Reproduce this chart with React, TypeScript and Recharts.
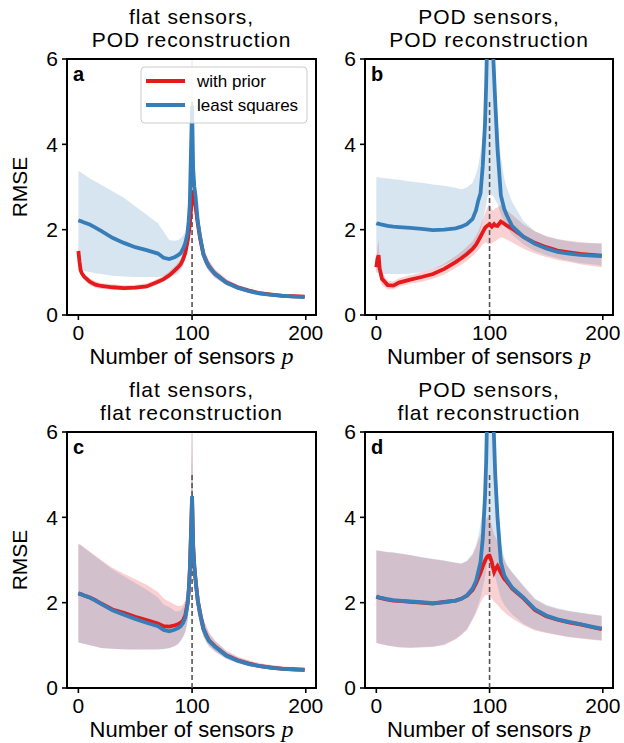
import React from 'react';
import { ComposedChart, Area, Line, XAxis, YAxis, ReferenceLine, ReferenceArea } from 'recharts';

const FONT = '"Liberation Sans", Arial, Helvetica, sans-serif';
const RED = '#e41a1c';
const BLUE = '#377eb8';

// number of sensors p (sample positions)
const P = [
  0, 1, 2, 3, 5,
  10, 15, 20, 30, 40,
  50, 60, 70, 75, 80,
  85, 88, 90, 92, 94,
  96, 97, 98, 99, 100,
  101, 102, 103, 104, 105,
  107, 110, 113, 115, 120,
  130, 140, 150, 160, 170,
  180, 190, 199,
];

const X_TICKS = [0, 100, 200];
const Y_TICKS = [0, 2, 4, 6];

// a: flat sensors, POD reconstruction
const A_PRIOR = [
  1.5, 1.25, 1.05, 0.98, 0.9,
  0.78, 0.71, 0.68, 0.65, 0.63,
  0.64, 0.67, 0.78, 0.84, 0.93,
  1.05, 1.13, 1.19, 1.3, 1.45,
  1.72, 1.9, 2.1, 2.45, 2.8,
  2.9, 2.75, 2.55, 2.35, 2.15,
  1.8, 1.42, 1.23, 1.14, 0.97,
  0.77, 0.65, 0.57, 0.51, 0.48,
  0.45, 0.44, 0.43,
];
const A_PRIOR_LO = [
  1.3, 1.1, 0.97, 0.9, 0.82,
  0.7, 0.64, 0.61, 0.59, 0.58,
  0.59, 0.62, 0.72, 0.78, 0.86,
  0.97, 1.04, 1.1, 1.19, 1.33,
  1.57, 1.73, 1.9, 2.2, 2.5,
  2.6, 2.5, 2.3, 2.12, 1.95,
  1.62, 1.28, 1.1, 1.02, 0.88,
  0.71, 0.6, 0.53, 0.48, 0.45,
  0.43, 0.42, 0.41,
];
const A_PRIOR_HI = [
  1.6, 1.4, 1.15, 1.06, 0.98,
  0.86, 0.79, 0.75, 0.72, 0.7,
  0.71, 0.74, 0.85, 0.92, 1.02,
  1.15, 1.24, 1.3, 1.43, 1.6,
  1.9, 2.1, 2.35, 2.8, 3.3,
  3.3, 3.05, 2.85, 2.62, 2.4,
  2.0, 1.6, 1.38, 1.28, 1.08,
  0.85, 0.71, 0.62, 0.55, 0.51,
  0.48, 0.46, 0.45,
];
const A_LSQ = [
  2.22, 2.21, 2.2, 2.19, 2.17,
  2.12, 2.05, 1.97, 1.81, 1.69,
  1.59, 1.52, 1.44, 1.34, 1.31,
  1.36, 1.41, 1.45, 1.55, 1.68,
  1.92, 2.2, 2.6, 3.8, 4.9,
  3.4, 3.0, 2.8, 2.5, 2.2,
  1.85, 1.42, 1.22, 1.13, 0.97,
  0.76, 0.64, 0.56, 0.5, 0.47,
  0.45, 0.43, 0.42,
];
const A_LSQ_LO = [
  1.06, 1.05, 1.05, 1.04, 1.03,
  1.01, 0.98, 0.96, 0.92, 0.9,
  0.89, 0.89, 0.89, 0.9, 0.9,
  0.93, 0.98, 1.05, 1.15, 1.3,
  1.55, 1.75, 2.05, 2.6, 3.0,
  2.9, 2.6, 2.4, 2.15, 1.9,
  1.6, 1.28, 1.1, 1.02, 0.87,
  0.7, 0.59, 0.52, 0.47, 0.44,
  0.42, 0.41, 0.4,
];
const A_LSQ_HI = [
  3.38, 3.36, 3.35, 3.33, 3.3,
  3.2, 3.13, 3.05, 2.9, 2.75,
  2.55, 2.35, 2.15, 1.95, 1.75,
  1.74, 1.76, 1.8, 1.85, 1.95,
  2.2, 2.5, 3.1, 4.5, 7,
  4.0, 3.4, 3.1, 2.8, 2.5,
  2.1, 1.6, 1.37, 1.26, 1.06,
  0.83, 0.7, 0.61, 0.54, 0.5,
  0.48, 0.46, 0.45,
];

// b: POD sensors, POD reconstruction
const B_PRIOR = [
  1.12, 1.32, 1.4, 1.08, 0.85,
  0.7, 0.69, 0.76, 0.83, 0.89,
  0.96, 1.08, 1.24, 1.33, 1.43,
  1.55, 1.65, 1.74, 1.84, 1.94,
  2.04, 2.07, 2.09, 2.11, 2.13,
  2.1, 2.07, 2.1, 2.13, 2.1,
  2.09, 2.19, 2.14, 2.1, 2.02,
  1.83, 1.69, 1.59, 1.51, 1.47,
  1.43, 1.41, 1.39,
];
const B_PRIOR_LO = [
  0.98, 1.05, 1.05, 0.85, 0.7,
  0.6, 0.6, 0.67, 0.73, 0.78,
  0.85, 0.95, 1.1, 1.18, 1.27,
  1.38, 1.46, 1.52, 1.58, 1.65,
  1.7, 1.7, 1.68, 1.66, 1.65,
  1.66, 1.68, 1.7, 1.72, 1.73,
  1.77, 1.82, 1.8, 1.77, 1.7,
  1.55, 1.44, 1.36, 1.29, 1.24,
  1.19, 1.15, 1.12,
];
const B_PRIOR_HI = [
  1.28, 1.6, 1.75, 1.3, 1.0,
  0.8, 0.79, 0.86, 0.93, 1.0,
  1.08, 1.2, 1.38, 1.48, 1.6,
  1.73, 1.85, 1.95, 2.1, 2.22,
  2.38, 2.45, 2.52, 2.57, 2.6,
  2.55, 2.48, 2.45, 2.47, 2.5,
  2.52, 2.58, 2.52, 2.46, 2.35,
  2.12, 1.96, 1.85, 1.78, 1.74,
  1.71, 1.69, 1.68,
];
const B_LSQ = [
  2.15, 2.14, 2.14, 2.13, 2.12,
  2.09, 2.07, 2.06, 2.04, 2.02,
  1.99, 2.0, 2.03, 2.07, 2.13,
  2.25, 2.45, 2.68, 2.85, 3.5,
  4.5, 5.4, 6.6, 8, 9,
  8.5, 7, 6.2, 5.6, 5.0,
  3.9, 2.8, 2.48, 2.35, 2.08,
  1.83, 1.67, 1.56, 1.48, 1.44,
  1.41, 1.39, 1.38,
];
const B_LSQ_LO = [
  1.0, 0.99, 0.98, 0.97, 0.96,
  0.96, 0.96, 0.96, 0.97, 1.0,
  1.07, 1.17, 1.3, 1.38, 1.48,
  1.62, 1.75, 1.85, 2.0, 2.2,
  2.45, 2.6, 2.75, 2.85, 2.9,
  2.85, 2.8, 2.8, 2.75, 2.7,
  2.6, 2.35, 2.15, 2.05, 1.88,
  1.65, 1.5, 1.4, 1.33, 1.27,
  1.22, 1.19, 1.16,
];
const B_LSQ_HI = [
  3.23, 3.23, 3.22, 3.22, 3.21,
  3.2, 3.18, 3.17, 3.13, 3.1,
  3.06, 3.03, 2.98, 2.95, 2.99,
  3.1, 3.3, 3.5, 3.8, 4.2,
  4.9, 5.6, 7, 8, 9,
  9, 8, 7, 6.5, 5.8,
  4.6, 3.7, 3.2, 3.0, 2.65,
  2.2, 1.96, 1.84, 1.77, 1.72,
  1.69, 1.68, 1.67,
];

// c: flat sensors, flat reconstruction
const C_PRIOR = [
  2.22, 2.21, 2.2, 2.19, 2.17,
  2.12, 2.06, 1.98, 1.84, 1.76,
  1.67, 1.59, 1.51, 1.45, 1.44,
  1.47, 1.5, 1.53, 1.58, 1.7,
  1.98, 2.25, 2.75, 3.55, 4.45,
  3.3, 2.85, 2.55, 2.3, 2.05,
  1.76, 1.39, 1.21, 1.11, 0.98,
  0.77, 0.65, 0.57, 0.51, 0.48,
  0.45, 0.44, 0.43,
];
const C_PRIOR_LO = [
  1.07, 1.06, 1.06, 1.05, 1.04,
  1.0, 0.97, 0.94, 0.92, 0.91,
  0.9, 0.9, 0.91, 0.92, 0.94,
  0.99, 1.05, 1.12, 1.2, 1.32,
  1.57, 1.8, 2.2, 2.8, 3.3,
  2.7, 2.4, 2.15, 1.95, 1.75,
  1.5, 1.2, 1.06, 0.98, 0.86,
  0.69, 0.59, 0.52, 0.47, 0.44,
  0.42, 0.41, 0.4,
];
const C_PRIOR_HI = [
  3.38, 3.37, 3.36, 3.34, 3.3,
  3.2, 3.1, 3.0, 2.82, 2.68,
  2.55, 2.42, 2.25, 2.1, 2.02,
  1.95, 1.92, 1.92, 1.95, 2.05,
  2.35, 2.65, 3.2, 4.5, 7,
  4.2, 3.4, 3.0, 2.7, 2.42,
  2.02, 1.62, 1.42, 1.3, 1.12,
  0.88, 0.74, 0.65, 0.58, 0.54,
  0.51, 0.49, 0.47,
];
const C_LSQ = [
  2.22, 2.21, 2.2, 2.19, 2.17,
  2.12, 2.05, 1.97, 1.82, 1.72,
  1.62, 1.53, 1.45, 1.36, 1.33,
  1.37, 1.41, 1.45, 1.52, 1.65,
  1.95, 2.25, 2.75, 3.6, 4.5,
  3.3, 2.85, 2.55, 2.3, 2.05,
  1.75, 1.38, 1.2, 1.1, 0.97,
  0.76, 0.64, 0.56, 0.51, 0.47,
  0.45, 0.43, 0.42,
];
const C_LSQ_LO = [
  1.06, 1.06, 1.05, 1.05, 1.04,
  1.0, 0.97, 0.94, 0.92, 0.9,
  0.9, 0.9, 0.9, 0.91, 0.93,
  0.98, 1.03, 1.1, 1.18, 1.3,
  1.55, 1.8, 2.2, 2.8, 3.3,
  2.7, 2.4, 2.15, 1.95, 1.75,
  1.5, 1.2, 1.05, 0.97, 0.85,
  0.68, 0.58, 0.51, 0.46, 0.43,
  0.41, 0.4, 0.39,
];
const C_LSQ_HI = [
  3.37, 3.36, 3.35, 3.33, 3.28,
  3.18, 3.08, 2.98, 2.78, 2.62,
  2.46, 2.3, 2.12, 1.95, 1.9,
  1.8, 1.8, 1.82, 1.88, 2.0,
  2.3, 2.6, 3.2, 4.5, 7,
  4.2, 3.4, 3.0, 2.7, 2.4,
  2.0, 1.6, 1.4, 1.28, 1.1,
  0.86, 0.72, 0.63, 0.56, 0.52,
  0.49, 0.47, 0.46,
];

// d: POD sensors, flat reconstruction
const D_PRIOR = [
  2.14, 2.13, 2.12, 2.11, 2.1,
  2.07, 2.05, 2.04, 2.02, 2.0,
  1.98, 2.02, 2.05, 2.09, 2.16,
  2.3, 2.45, 2.58, 2.7, 2.85,
  2.98, 3.04, 3.08, 3.1, 3.1,
  3.03, 2.95, 2.82, 2.72, 2.78,
  2.86, 2.7, 2.56, 2.5, 2.33,
  2.1, 1.83, 1.68, 1.6, 1.54,
  1.49, 1.43, 1.38,
];
const D_PRIOR_LO = [
  1.06, 1.05, 1.04, 1.03, 1.02,
  0.99, 0.97, 0.95, 0.94, 0.95,
  0.96, 1.01, 1.14, 1.24, 1.36,
  1.6, 1.75, 1.88, 2.0, 2.1,
  2.17, 2.18, 2.18, 2.17, 2.17,
  2.15, 2.1, 2.05, 2.02, 2.0,
  1.95, 1.85, 1.78, 1.73, 1.63,
  1.47, 1.35, 1.29, 1.24, 1.19,
  1.16, 1.13, 1.11,
];
const D_PRIOR_HI = [
  3.22, 3.22, 3.21, 3.21, 3.2,
  3.18, 3.17, 3.15, 3.11, 3.06,
  3.02, 2.98, 2.93, 2.91, 2.97,
  3.12, 3.3, 3.45, 3.6, 3.75,
  3.9, 3.95, 4.0, 4.0, 3.95,
  3.9, 3.8, 3.7, 3.6, 3.55,
  3.45, 3.2, 3.0, 2.88, 2.7,
  2.38, 2.08, 1.93, 1.85, 1.8,
  1.76, 1.72, 1.69,
];
const D_LSQ = [
  2.15, 2.14, 2.13, 2.12, 2.11,
  2.08, 2.06, 2.05, 2.03, 2.01,
  1.99, 2.01, 2.05, 2.09, 2.17,
  2.33, 2.5, 2.72, 2.95, 3.5,
  4.5, 5.3, 6.6, 8, 9,
  8.5, 7.5, 6.6, 5.8, 5.0,
  4.0, 2.95, 2.64, 2.55, 2.35,
  2.12, 1.85, 1.7, 1.61, 1.55,
  1.5, 1.44, 1.39,
];
const D_LSQ_LO = [
  1.07, 1.06, 1.05, 1.04, 1.03,
  1.0, 0.98, 0.96, 0.95, 0.96,
  0.97, 1.02, 1.15, 1.25, 1.38,
  1.62, 1.8, 1.95, 2.12, 2.35,
  2.6, 2.75, 2.9, 3.0, 3.1,
  3.05, 2.95, 2.85, 2.75, 2.6,
  2.4, 2.1, 1.95, 1.88, 1.72,
  1.5, 1.37, 1.3, 1.25, 1.2,
  1.17, 1.14, 1.12,
];
const D_LSQ_HI = [
  3.23, 3.23, 3.22, 3.22, 3.21,
  3.19, 3.18, 3.16, 3.12, 3.07,
  3.03, 2.99, 2.94, 2.92, 2.98,
  3.15, 3.35, 3.55, 3.85, 4.2,
  4.9, 5.6, 7, 8, 9,
  9, 8, 7, 6.4, 5.8,
  4.5, 3.4, 3.05, 2.9, 2.72,
  2.4, 2.1, 1.95, 1.87, 1.81,
  1.77, 1.73, 1.7,
];

const rows = (
  prior: number[], priorLo: number[], priorHi: number[],
  lsq: number[], lsqLo: number[], lsqHi: number[],
) =>
  P.map((p, i) => ({
    p,
    prior: prior[i],
    priorBand: [priorLo[i], priorHi[i]],
    lsq: lsq[i],
    lsqBand: [lsqLo[i], lsqHi[i]],
  }));

const DATA_A = rows(A_PRIOR, A_PRIOR_LO, A_PRIOR_HI, A_LSQ, A_LSQ_LO, A_LSQ_HI);
const DATA_B = rows(B_PRIOR, B_PRIOR_LO, B_PRIOR_HI, B_LSQ, B_LSQ_LO, B_LSQ_HI);
const DATA_C = rows(C_PRIOR, C_PRIOR_LO, C_PRIOR_HI, C_LSQ, C_LSQ_LO, C_LSQ_HI);
const DATA_D = rows(D_PRIOR, D_PRIOR_LO, D_PRIOR_HI, D_LSQ, D_LSQ_LO, D_LSQ_HI);

const tickStyle = { fill: '#000', fontSize: 21, fontFamily: FONT };

type PanelProps = {
  left: number;
  top: number;
  width: number;
  height: number;
  yWidth: number;
  right: number;
  xHeight: number;
  data: ReturnType<typeof rows>;
};

function Panel({ left, top, width, height, yWidth, right, xHeight, data }: PanelProps) {
  return (
    <div style={{ position: 'absolute', left, top, width, height }}>
      <ComposedChart
        width={width}
        height={height}
        data={data}
        margin={{ top: 59, right, bottom: 0, left: 0 }}
      >
        <XAxis
          dataKey="p"
          type="number"
          domain={[-10, 209]}
          ticks={X_TICKS}
          interval={0}
          allowDataOverflow
          height={xHeight}
          axisLine={false}
          tickSize={5}
          tickMargin={5}
          tickLine={{ stroke: '#000', strokeWidth: 1.6 }}
          tick={tickStyle}
        />
        <YAxis
          type="number"
          domain={[0, 6]}
          ticks={Y_TICKS}
          interval={0}
          allowDataOverflow
          width={yWidth}
          axisLine={false}
          tickSize={5}
          tickMargin={4}
          tickLine={{ stroke: '#000', strokeWidth: 1.6 }}
          tick={tickStyle}
        />
        <Area
          dataKey="priorBand"
          type="linear"
          stroke="none"
          fill={RED}
          fillOpacity={0.2}
          dot={false}
          activeDot={false}
          isAnimationActive={false}
        />
        <Area
          dataKey="lsqBand"
          type="linear"
          stroke="none"
          fill={BLUE}
          fillOpacity={0.2}
          dot={false}
          activeDot={false}
          isAnimationActive={false}
        />
        <ReferenceLine
          segment={[{ x: 100, y: 0 }, { x: 100, y: 5 }]}
          stroke="#555"
          strokeWidth={1.6}
          strokeDasharray="5 3"
        />
        <Line
          dataKey="prior"
          type="linear"
          stroke={RED}
          strokeWidth={3.8}
          dot={false}
          activeDot={false}
          isAnimationActive={false}
        />
        <Line
          dataKey="lsq"
          type="linear"
          stroke={BLUE}
          strokeWidth={3.8}
          dot={false}
          activeDot={false}
          isAnimationActive={false}
        />
        <ReferenceArea x1={-10} x2={209} y1={0} y2={6} fill="none" fillOpacity={0} stroke="#000" strokeWidth={2} />
      </ComposedChart>
    </div>
  );
}

const TITLES = [
  ['flat sensors,', 'POD reconstruction'],
  ['POD sensors,', 'POD reconstruction'],
  ['flat sensors,', 'flat reconstruction'],
  ['POD sensors,', 'flat reconstruction'],
];
const LETTERS = ['a', 'b', 'c', 'd'];
const LEGEND = [
  { name: 'with prior', color: RED },
  { name: 'least squares', color: BLUE },
];

// plot boxes: [left, right, top, bottom]
const BOXES = [
  [67, 316, 59, 315],
  [365, 613, 59, 315],
  [67, 316, 432, 688],
  [365, 613, 432, 688],
];

function Overlay() {
  return (
    <svg width={624} height={743} style={{ position: 'absolute', left: 0, top: 0, pointerEvents: 'none' }}>
      {BOXES.map(([l, r, t, b], i) => {
        const cx = (l + r) / 2;
        return (
          <g key={i} fontFamily={FONT} fill="#000">
            <text x={cx} y={t - 35} textAnchor="middle" fontSize={21} letterSpacing={0.9}>{TITLES[i][0]}</text>
            <text x={cx} y={t - 12} textAnchor="middle" fontSize={21} letterSpacing={0.9}>{TITLES[i][1]}</text>
            <text x={l + 6} y={t + 22} fontSize={20} fontWeight="bold">{LETTERS[i]}</text>
            <text x={cx} y={b + 49} textAnchor="middle" fontSize={22}>
              Number of sensors <tspan fontFamily='"Liberation Serif", "DejaVu Serif", serif' fontStyle="italic" fontSize={24}>p</tspan>
            </text>
            {i % 2 === 0 && (
              <text
                x={27}
                y={(t + b) / 2}
                textAnchor="middle"
                fontSize={21}
                transform={`rotate(-90, 27, ${(t + b) / 2})`}
              >
                RMSE
              </text>
            )}
          </g>
        );
      })}
      <g fontFamily={FONT}>
        <rect x={141} y={67} width={166} height={56} rx={4} fill="#fff" fillOpacity={0.8} stroke="#ccc" strokeWidth={1} />
        {LEGEND.map((item, i) => (
          <g key={item.name}>
            <line x1={146} x2={185} y1={81 + i * 24} y2={81 + i * 24} stroke={item.color} strokeWidth={4} />
            <text x={197} y={87 + i * 24} fontSize={17} fill="#000">{item.name}</text>
          </g>
        ))}
      </g>
    </svg>
  );
}

export default function App() {
  return (
    <div style={{ position: 'absolute', left: 0, top: 0, width: 624, height: 743, background: '#fff' }}>
      <Panel left={0} top={0} width={340} height={372} yWidth={67} right={24} xHeight={57} data={DATA_A} />
      <Panel left={312} top={0} width={312} height={372} yWidth={53} right={11} xHeight={57} data={DATA_B} />
      <Panel left={0} top={373} width={340} height={370} yWidth={67} right={24} xHeight={55} data={DATA_C} />
      <Panel left={312} top={373} width={312} height={370} yWidth={53} right={11} xHeight={55} data={DATA_D} />
      <Overlay />
    </div>
  );
}
